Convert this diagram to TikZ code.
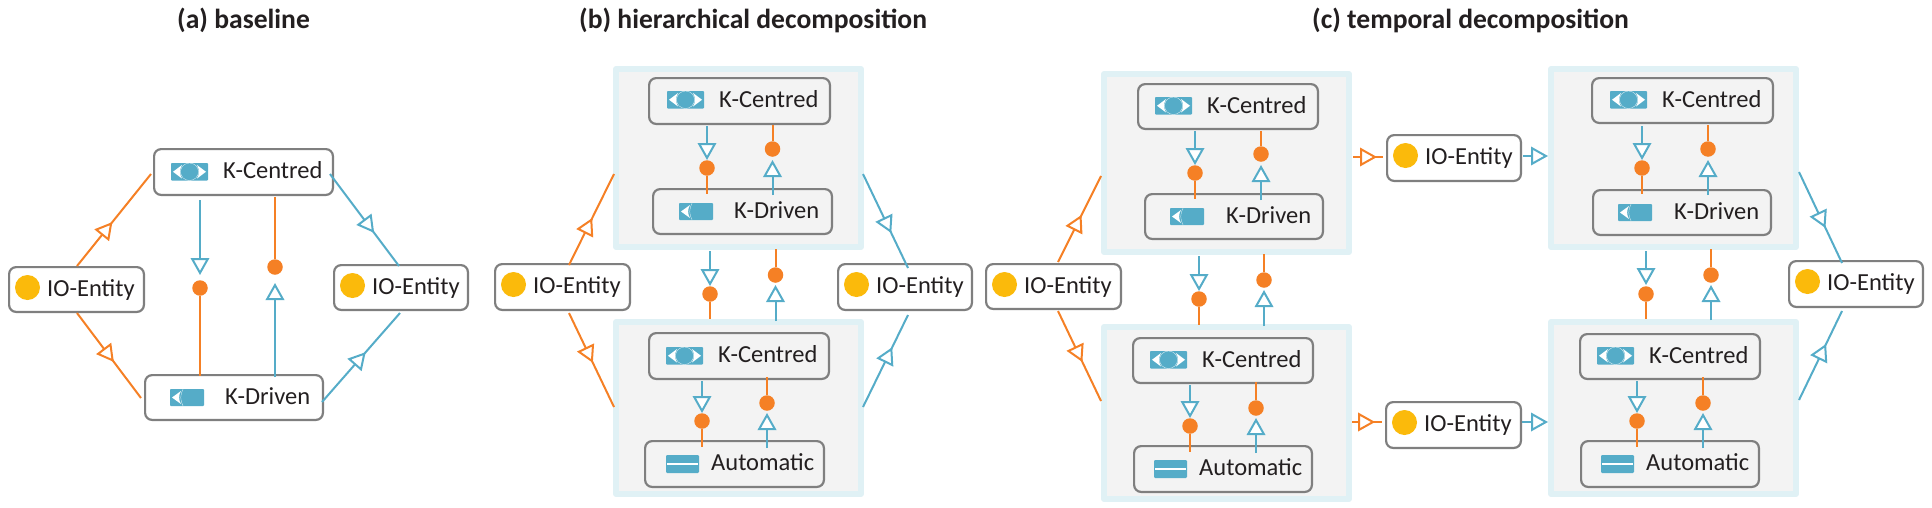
\documentclass[tikz,border=0pt]{standalone}
\usepackage{fontspec}
\setmainfont{Carlito}
\usetikzlibrary{arrows.meta,decorations.markings}
\definecolor{ORG}{HTML}{F58025}
\definecolor{BLU}{HTML}{55ACC8}
\definecolor{YEL}{HTML}{FBBA0B}
\definecolor{PANB}{HTML}{E0F1F5}
\definecolor{PANF}{HTML}{F3F3F3}
\definecolor{EDGE}{HTML}{7F7F7F}
\definecolor{INK}{HTML}{231F20}
\tikzset{
  oline/.style={color=ORG,line width=2pt},
  bline/.style={color=BLU,line width=2pt},
  hollow/.tip={Triangle[length=17pt,width=18.5pt,fill=white,line width=2pt]},
  midtip/.style={postaction={decorate},decoration={markings,mark=at position #1 with {\arrow{hollow}}}},
  boxn/.style={draw=EDGE,line width=2.2pt,rounded corners=7pt,inner sep=0pt},
  paneln/.style={draw=PANB,fill=PANF,line width=6pt,line join=round,inner sep=0pt},
  dotn/.style={circle,fill=ORG,inner sep=0pt,minimum size=15.5pt},
  ion/.style={circle,fill=YEL,inner sep=0pt,minimum size=25pt},
  lbl/.style={anchor=base west,inner sep=0pt,text=INK,font=\fontsize{24.5}{28}\selectfont},
  ttl/.style={anchor=base west,inner sep=0pt,text=INK,font=\fontsize{27.6}{30}\selectfont\bfseries},
}
% name, fill, x1, y1, x2, y2, label, text x
\newcommand{\boxnode}[8]{%
  \node[boxn,fill=#2,minimum width={(#5-#3-2.2)*1pt},minimum height={(#6-#4-2.2)*1pt}] (#1) at ({(#3+#5)/2},{(#4+#6)/2}) {};
  \node[lbl] (#1-t) at (#8,#4+30) {#7};}
\newcommand{\ionode}[5]{%
  \boxnode{#1}{white}{#2}{#3}{#4}{#5}{IO-Entity}{#2+39}
  \node[ion] (#1-c) at (#2+19.5,#3+21.5) {};}
\newcommand{\panelnode}[5]{%
  \node[paneln,minimum width={(#4-#2-6)*1pt},minimum height={(#5-#3-6)*1pt}] (#1) at ({(#2+#4)/2},{(#3+#5)/2}) {};}
\newcommand{\eyeicon}[2]{%
  \begin{scope}[shift={(#1,#2)}]
    \fill[BLU,rounded corners=.8pt] (0,0) rectangle (37,17.5);
    \fill[white] (2,8.75) -- (11,2) .. controls (8.5,5.5) and (8.5,12) .. (11,15.5) -- cycle;
    \fill[white] (35,8.75) -- (26,2) .. controls (28.5,5.5) and (28.5,12) .. (26,15.5) -- cycle;
    \draw[white,line width=.25pt] (18.5,8.75) ellipse (9 and 8.75);
  \end{scope}}
\newcommand{\lefticon}[2]{%
  \begin{scope}[shift={(#1,#2)}]
    \fill[BLU,rounded corners=.8pt] (0,0) rectangle (34,17);
    \fill[white] (2,8.5) -- (11,2) .. controls (8.5,5.5) and (8.5,11.5) .. (11,15) -- cycle;
    \draw[white,line width=.25pt] (13,.2) .. controls (10,6) and (10,11) .. (13,16.8);
  \end{scope}}
\newcommand{\autoicon}[2]{%
  \begin{scope}[shift={(#1,#2)}]
    \fill[BLU,rounded corners=1.2pt] (0,0) rectangle (33,18);
    \draw[white,line width=1.6pt] (1,9) -- (32,9);
  \end{scope}}
% name, x, y start, tip y, dot y, y end: blue arrow downward, dot with orange stem below
\newcommand{\pairdown}[6]{%
  \coordinate (#1-a) at (#2,#3); \coordinate (#1-t) at (#2,#4); \coordinate (#1-b) at (#2,#6);
  \node[dotn] (#1-d) at (#2,#5) {};
  \draw[bline,-{hollow}] (#1-a) -- (#1-t);
  \draw[oline] (#1-d) -- (#1-b);}
% name, x, y start, dot y, tip y, y end: orange stem with dot, blue arrow upward below
\newcommand{\pairup}[6]{%
  \coordinate (#1-a) at (#2,#3); \coordinate (#1-t) at (#2,#5); \coordinate (#1-b) at (#2,#6);
  \node[dotn] (#1-d) at (#2,#4) {};
  \draw[oline] (#1-a) -- (#1-d);
  \draw[bline,-{hollow}] (#1-b) -- (#1-t);}
% name, style, x1,y1, x2,y2, position of the tip
\newcommand{\slant}[7]{%
  \coordinate (#1-a) at (#3,#4); \coordinate (#1-b) at (#5,#6);
  \draw[#2,midtip=#7] (#1-a) -- (#1-b);}
\begin{document}
\begin{tikzpicture}[x=1pt,y=-1pt]
\useasboundingbox (0,0) rectangle (1932,507);
\node[ttl] (ta) at (177,28) {(a) baseline};
\node[ttl] (tb) at (579,28) {(b) hierarchical decomposition};
\node[ttl] (tc) at (1312,28) {(c) temporal decomposition};
% ---- (a)
\boxnode{aK}{white}{153}{148}{334}{196}{K-Centred}{223}
\eyeicon{171}{163}
\boxnode{aD}{white}{144}{374}{324}{421}{K-Driven}{225}
\lefticon{170}{389}
\ionode{aL}{8}{266}{145}{313}
\ionode{aR}{333}{264}{469}{311}
\pairdown{aP}{200}{200}{275}{288}{376}
\pairup{aQ}{275}{197}{267}{283}{377}
\slant{aS1}{oline}{77}{266}{151}{174}{.478}
\slant{aS2}{bline}{330}{174}{399}{266}{.64}
\slant{aS3}{oline}{77}{313}{141}{398}{.576}
\slant{aS4}{bline}{322}{402}{400}{313}{.56}
% ---- (b)
\panelnode{bT}{613}{66}{864}{250}
\panelnode{bB}{613}{319}{864}{497}
\boxnode{bK1}{PANF}{648}{77}{831}{125}{K-Centred}{719}
\eyeicon{667}{91}
\boxnode{bD1}{PANF}{652}{188}{833}{235}{K-Driven}{734}
\lefticon{679}{203}
\boxnode{bK2}{PANF}{648}{332}{830}{380}{K-Centred}{718}
\eyeicon{666}{347}
\boxnode{bA2}{PANF}{644}{440}{825}{488}{Automatic}{711}
\autoicon{666}{455}
\ionode{bL}{494}{263}{631}{311}
\ionode{bR}{837}{263}{973}{311}
\pairdown{bP1}{707}{126}{160}{168}{194}
\pairup{bQ1}{772.5}{125}{149}{160}{195}
\pairdown{bP2}{710}{251}{286}{294}{319}
\pairup{bQ2}{775.5}{249}{275}{285}{321}
\pairdown{bP3}{702}{381}{413}{421}{447}
\pairup{bQ3}{767}{377}{403}{413}{448}
\slant{bS1}{oline}{569}{265}{614}{174}{.516}
\slant{bS2}{bline}{863}{174}{908}{268}{.628}
\slant{bS3}{oline}{569}{313}{614}{407}{.53}
\slant{bS4}{bline}{863}{407}{908}{315}{.65}
% ---- (c) first column
\panelnode{cT}{1101}{71}{1352}{255}
\panelnode{cB}{1101}{324}{1352}{502}
\boxnode{cK1}{PANF}{1137}{83}{1319}{130}{K-Centred}{1207}
\eyeicon{1155}{97}
\boxnode{cD1}{PANF}{1144}{193}{1324}{240}{K-Driven}{1226}
\lefticon{1170}{208}
\boxnode{cK2}{PANF}{1132}{337}{1314}{384}{K-Centred}{1202}
\eyeicon{1150}{351}
\boxnode{cA2}{PANF}{1133}{445}{1313}{493}{Automatic}{1199}
\autoicon{1154}{460}
\ionode{cL}{985}{263}{1122}{310}
\pairdown{cP1}{1195}{131}{165}{173}{199}
\pairup{cQ1}{1261}{131}{154}{165}{200}
\pairdown{cP2}{1199}{256}{291}{299}{325}
\pairup{cQ2}{1264}{254}{280}{290}{326}
\pairdown{cP3}{1190}{385}{418}{426}{452}
\pairup{cQ3}{1256}{382}{408}{418}{453}
\slant{cS1}{oline}{1058}{262}{1101}{176}{.547}
\slant{cS2}{oline}{1058}{311}{1101}{401}{.567}
% ---- (c) middle
\ionode{cM1}{1386}{134}{1522}{182}
\ionode{cM2}{1385}{401}{1522}{449}
\slant{cH1}{oline}{1353}{157}{1383}{157}{.8}
\slant{cH2}{oline}{1352}{422}{1382}{422}{.77}
\coordinate (cH3-a) at (1523,156); \coordinate (cH3-b) at (1548,156);
\draw[bline,-{hollow}] (cH3-a) -- (cH3-b);
\coordinate (cH4-a) at (1522,422); \coordinate (cH4-b) at (1548,422);
\draw[bline,-{hollow}] (cH4-a) -- (cH4-b);
% ---- (c) second column
\panelnode{dT}{1548}{66}{1799}{250}
\panelnode{dB}{1548}{319}{1799}{497}
\boxnode{dK1}{PANF}{1591}{77}{1774}{124}{K-Centred}{1662}
\eyeicon{1610}{91}
\boxnode{dD1}{PANF}{1592}{189}{1772}{236}{K-Driven}{1674}
\lefticon{1618}{204}
\boxnode{dK2}{PANF}{1579}{333}{1761}{380}{K-Centred}{1649}
\eyeicon{1597}{347}
\boxnode{dA2}{PANF}{1580}{440}{1760}{488}{Automatic}{1646}
\autoicon{1601}{455}
\ionode{dR}{1788}{260}{1924}{308}
\pairdown{dP1}{1642}{126}{160}{168}{194}
\pairup{dQ1}{1708}{125}{149}{160}{195}
\pairdown{dP2}{1646}{251}{285}{294}{319}
\pairup{dQ2}{1711}{249}{275}{285}{320}
\pairdown{dP3}{1637}{381}{413}{421}{447}
\pairup{dQ3}{1703}{377}{403}{413}{448}
\slant{dS1}{bline}{1799}{172}{1842}{263}{.615}
\slant{dS2}{bline}{1799}{400}{1842}{311}{.63}
\end{tikzpicture}
\end{document}
